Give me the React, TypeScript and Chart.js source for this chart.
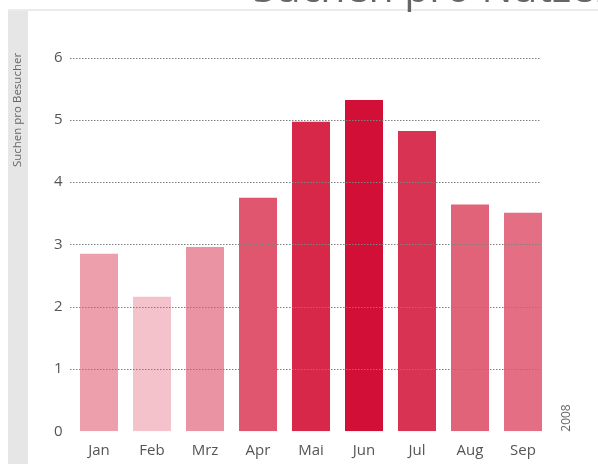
import React, { useEffect, useRef } from "react";
import { Chart, registerables } from "chart.js";

Chart.register(...registerables);

const months = ["Jan", "Feb", "Mrz", "Apr", "Mai", "Jun", "Jul", "Aug", "Sep"];
const searchesPerVisitor = [2.85, 2.16, 2.96, 3.75, 4.97, 5.32, 4.82, 3.64, 3.51];
const barColors = ["#EDA0AC", "#F4C2CB", "#EA94A3", "#E0566F", "#D8284A", "#D20F37", "#D83352", "#E0637A", "#E46F85"];
const gridValues = [1, 2, 3, 4, 5, 6];
const chartTitle = "Suchen pro Nutzer";
const yAxisTitle = "Suchen pro Besucher";
const yearLabel = "2008";

const FONT = "'Open Sans', 'Noto Sans', sans-serif";

const decorPlugin = {
  id: "decor",
  beforeDraw(chart: any) {
    const ctx = chart.ctx;
    ctx.save();
    ctx.fillStyle = "#ffffff";
    ctx.fillRect(0, 0, chart.width, chart.height);
    ctx.fillStyle = "#e6e6e6";
    ctx.fillRect(8, 10, 20, chart.height - 10);
    ctx.fillStyle = "#ebebeb";
    ctx.fillRect(8, 9, chart.width - 8, 2);
    ctx.restore();
  },
  afterDatasetsDraw(chart: any) {
    const ctx = chart.ctx;
    const y = chart.scales.y;
    ctx.save();
    ctx.strokeStyle = "#808080";
    ctx.lineWidth = 1;
    ctx.setLineDash([1.5, 1.5]);
    gridValues.forEach((v) => {
      const py = Math.round(y.getPixelForValue(v)) + 0.5;
      ctx.beginPath();
      ctx.moveTo(70, py);
      ctx.lineTo(540, py);
      ctx.stroke();
    });
    ctx.restore();
  },
  afterDraw(chart: any) {
    const ctx = chart.ctx;
    ctx.save();
    ctx.fillStyle = "#666666";
    ctx.font = `41px ${FONT}`;
    ctx.textAlign = "left";
    ctx.textBaseline = "alphabetic";
    ctx.fillText(chartTitle, 253, 2);

    ctx.fillStyle = "#666666";
    ctx.font = `11.5px ${FONT}`;
    ctx.translate(18, 110);
    ctx.rotate(-Math.PI / 2);
    ctx.textAlign = "center";
    ctx.textBaseline = "middle";
    ctx.fillText(yAxisTitle, 0, 0);
    ctx.restore();

    ctx.save();
    ctx.fillStyle = "#666666";
    ctx.font = `12px ${FONT}`;
    ctx.translate(567, 418);
    ctx.rotate(-Math.PI / 2);
    ctx.textAlign = "center";
    ctx.textBaseline = "middle";
    ctx.fillText(yearLabel, 0, 0);
    ctx.restore();
  },
};

export default function App() {
  const ref = useRef<HTMLCanvasElement | null>(null);
  useEffect(() => {
    if (!ref.current) return;
    const chart = new Chart(ref.current, {
      type: "bar",
      data: {
        labels: months,
        datasets: [
          {
            data: searchesPerVisitor,
            backgroundColor: barColors,
            borderWidth: 0,
            barPercentage: 38 / 53,
            categoryPercentage: 1,
          },
        ],
      },
      options: {
        responsive: false,
        animation: false,
        layout: { padding: { top: 57.6, right: 48.5, bottom: 0, left: 0 } },
        plugins: { legend: { display: false }, tooltip: { enabled: false }, title: { display: false } },
        scales: {
          x: {
            grid: { display: false, drawTicks: false },
            border: { display: false },
            ticks: { color: "#555555", font: { family: FONT, size: 15 }, padding: 10, maxRotation: 0 },
            afterFit: (s: any) => {
              s.height = 32.7;
            },
          },
          y: {
            min: 0,
            max: 6,
            grid: { display: false, drawTicks: false },
            border: { display: false },
            ticks: { stepSize: 1, color: "#555555", font: { family: FONT, size: 15 }, padding: 10 },
            afterFit: (s: any) => {
              s.width = 72.5;
            },
          },
        },
      },
      plugins: [decorPlugin],
    });
    return () => chart.destroy();
  }, []);
  return (
    <div style={{ position: "fixed", left: 0, top: 0, width: 598, height: 464 }}>
      <canvas ref={ref} width={598} height={464} style={{ display: "block" }} />
    </div>
  );
}
